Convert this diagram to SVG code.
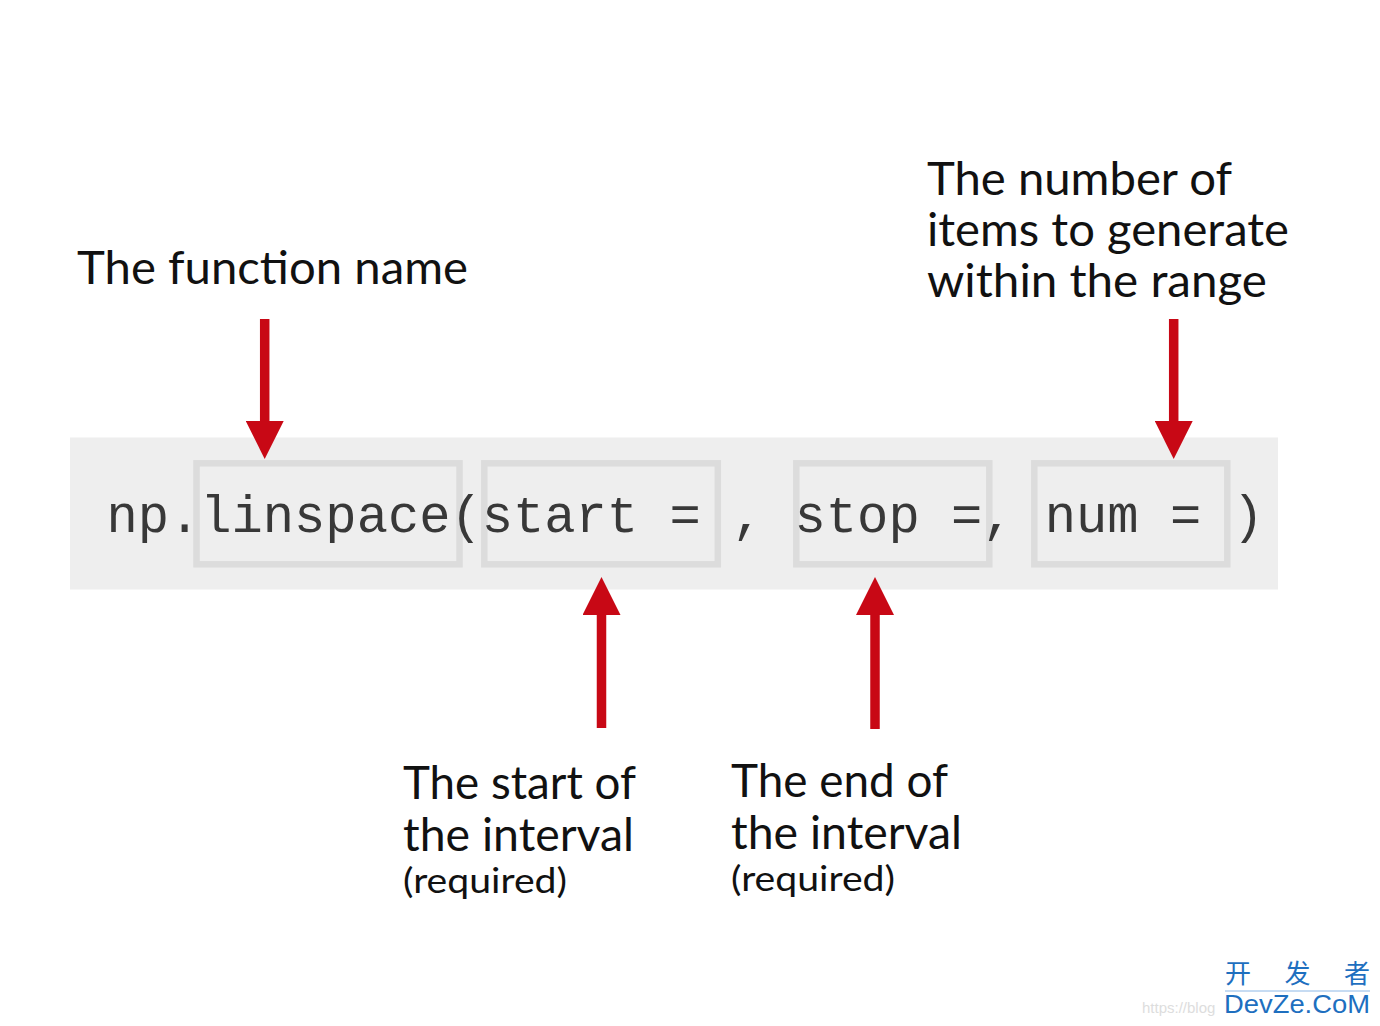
<svg xmlns="http://www.w3.org/2000/svg" width="1380" height="1026" viewBox="0 0 1380 1026">
<style>
.lbl{font-family:Lato,"Open Sans",sans-serif;font-size:46px;fill:#111}
.req{font-family:Lato,"Open Sans",sans-serif;font-size:34px;fill:#111}
.code{font-family:"Liberation Mono","Courier New",monospace;font-size:52.13px;fill:#383838}
.box{fill:none;stroke:#dcdcdc;stroke-width:6.5}
.arr{stroke:#c80815;stroke-width:9.5;fill:none;marker-end:url(#head)}
</style>
<defs>
<marker id="head" markerUnits="userSpaceOnUse" viewBox="0 0 38 38" markerWidth="38" markerHeight="38" refX="19" refY="19" orient="auto">
<path d="M0,0 L38,19 L0,38 z" fill="#c80815"/>
</marker>
</defs>
<rect width="1380" height="1026" fill="#ffffff"/>
<g id="code">
<rect x="70" y="437.5" width="1208" height="152" fill="#eeeeee"/>
<rect id="box-linspace" class="box" x="196.5" y="463.3" width="263" height="101"/>
<rect id="box-start" class="box" x="484.3" y="463.3" width="233.5" height="101"/>
<rect id="box-stop" class="box" x="796.3" y="463.3" width="193" height="101"/>
<rect id="box-num" class="box" x="1034.3" y="463.3" width="193" height="101"/>
<text class="code" x="106.4" y="532" xml:space="preserve">np.linspace(start = , stop =, num = )</text>
</g>
<g id="label-function">
<text class="lbl" x="77" y="284" textLength="391" lengthAdjust="spacingAndGlyphs">The function name</text>
</g>
<g id="label-num">
<text class="lbl" x="927" y="195" textLength="305" lengthAdjust="spacingAndGlyphs">The number of</text>
<text class="lbl" x="927" y="246" textLength="362" lengthAdjust="spacingAndGlyphs">items to generate</text>
<text class="lbl" x="927" y="297" textLength="340" lengthAdjust="spacingAndGlyphs">within the range</text>
</g>
<g id="label-start">
<text class="lbl" x="403" y="799" textLength="233" lengthAdjust="spacingAndGlyphs">The start of</text>
<text class="lbl" x="403" y="851" textLength="231" lengthAdjust="spacingAndGlyphs">the interval</text>
<text class="req" x="403" y="893" textLength="164" lengthAdjust="spacingAndGlyphs">(required)</text>
</g>
<g id="label-stop">
<text class="lbl" x="731" y="797" textLength="217" lengthAdjust="spacingAndGlyphs">The end of</text>
<text class="lbl" x="731" y="849" textLength="231" lengthAdjust="spacingAndGlyphs">the interval</text>
<text class="req" x="731" y="891" textLength="164" lengthAdjust="spacingAndGlyphs">(required)</text>
</g>
<g id="connectors">
<line class="arr" x1="264.7" y1="319" x2="264.7" y2="440"/>
<line class="arr" x1="1173.7" y1="319" x2="1173.7" y2="440"/>
<line class="arr" x1="601.5" y1="728" x2="601.5" y2="596"/>
<line class="arr" x1="875" y1="729" x2="875" y2="596"/>
</g>
<g id="watermark">
<text x="1142" y="1013" font-family="Liberation Sans,sans-serif" font-size="15" fill="#dddddd">https://blog</text>
<text x="1225" y="983" font-family="'Noto Sans CJK SC',sans-serif" font-size="26" fill="#1e6fbf" textLength="145" xml:space="preserve">开 发 者</text>
<line x1="1225" y1="991" x2="1370" y2="991" stroke="#8db8e6" stroke-width="1"/>
<text x="1224" y="1013" font-family="Liberation Sans,sans-serif" font-size="25" fill="#1e6fbf" textLength="146" lengthAdjust="spacingAndGlyphs">DevZe.CoM</text>
</g>
</svg>
